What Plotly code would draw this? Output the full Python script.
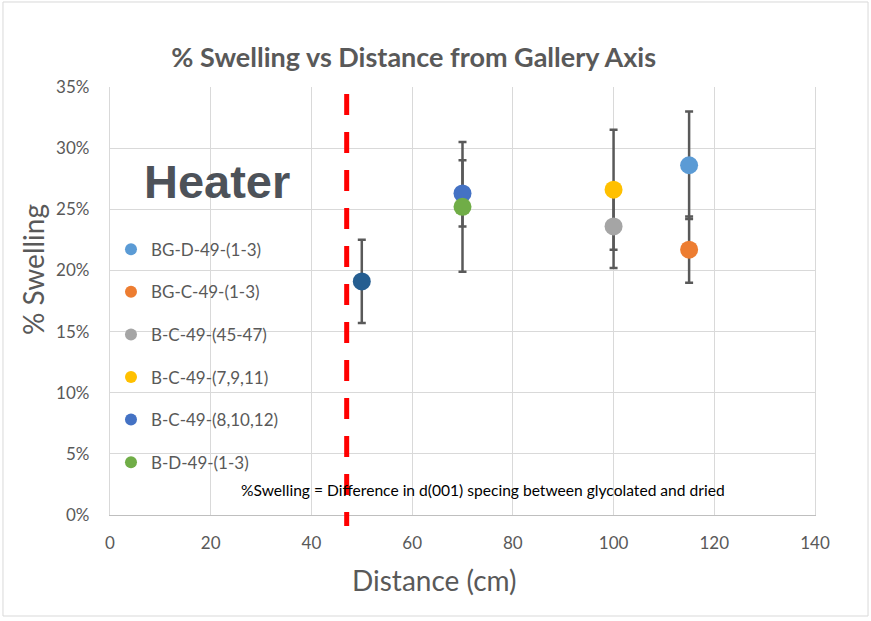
import plotly.graph_objects as go

# ---------------- data ----------------
series_names = ["BG-D-49-(1-3)", "BG-C-49-(1-3)", "B-C-49-(45-47)",
                "B-C-49-(7,9,11)", "B-C-49-(8,10,12)", "B-D-49-(1-3)", "B-C-49-(heater)"]
distance_cm = [115, 115, 100, 100, 70, 70, 50]
swelling = [0.286, 0.217, 0.236, 0.266, 0.263, 0.252, 0.191]
swelling_err = [0.044, 0.027, 0.034, 0.049, 0.027, 0.053, 0.034]
in_legend = [True, True, True, True, True, True, False]
colors = ["#5B9BD5", "#ED7D31", "#A5A5A5", "#FFC000", "#4472C4", "#70AD47", "#255E91"]

heater_line_x = 47
x_ticks = [0, 20, 40, 60, 80, 100, 120, 140]
y_ticks = [0, 0.05, 0.10, 0.15, 0.20, 0.25, 0.30, 0.35]
y_tick_labels = ["0%", "5%", "10%", "15%", "20%", "25%", "30%", "35%"]

FONT = "Lato"
GREY = "#595959"

fig = go.Figure()

# error bars first (beneath every marker)
for name, x, y, e in zip(series_names, distance_cm, swelling, swelling_err):
    fig.add_trace(go.Scatter(
        x=[x], y=[y], mode="markers", showlegend=False, hoverinfo="skip",
        marker=dict(size=1, opacity=0),
        error_y=dict(type="data", array=[e], visible=True, color=GREY,
                     thickness=2.5, width=4),
        legendgroup=name,
    ))

# markers; hidden series first, legend follows the list order
order = [6, 0, 1, 2, 3, 4, 5]
for i in order:
    fig.add_trace(go.Scatter(
        x=[distance_cm[i]], y=[swelling[i]], mode="markers",
        name=series_names[i], showlegend=in_legend[i],
        legendgroup=series_names[i],
        marker=dict(size=18, color=colors[i]),
    ))

shapes = [
    # heater boundary red dashed line
    dict(type="line", xref="x", yref="paper", x0=heater_line_x, x1=heater_line_x,
         y0=0.9836, y1=-0.0257, line=dict(color="#FF0000", width=5, dash="21px,17px")),
    # chart-area border
    dict(type="rect", xref="paper", yref="paper", x0=-0.1518, x1=1.0752,
         y0=-0.236, y1=1.1986, line=dict(color="#D9D9D9", width=1), layer="below"),
]

annotations = [
    dict(text="Heater", xref="x", yref="y", x=21.15, y=0.2731, showarrow=False,
         font=dict(family="Liberation Sans", size=47, color="#4D5259", weight="bold"),
         xanchor="center", yanchor="middle"),
    dict(text="%Swelling = Difference in d(001) specing between glycolated and dried",
         xref="x", yref="y", x=74.1, y=0.0204, showarrow=False,
         font=dict(family=FONT, size=15.6, color="#000000"),
         xanchor="center", yanchor="middle"),
    dict(text="% Swelling", xref="paper", yref="paper", x=-0.1092, y=0.5724,
         textangle=-90, showarrow=False, font=dict(family=FONT, size=28, color=GREY),
         xanchor="center", yanchor="middle"),
    dict(text="Distance (cm)", xref="paper", yref="paper", x=0.4596, y=-0.1519,
         showarrow=False, font=dict(family=FONT, size=28, color=GREY),
         xanchor="center", yanchor="middle"),
]

fig.update_layout(
    width=871, height=621,
    margin=dict(l=110, r=56, t=87, b=106),
    paper_bgcolor="white", plot_bgcolor="white",
    title=dict(text="% Swelling vs Distance from Gallery Axis",
               x=0.475, xanchor="center", y=1 - 58 / 621, yanchor="middle",
               font=dict(family=FONT, size=27, color=GREY, weight="bold")),
    xaxis=dict(range=[0, 140], tickvals=x_ticks, showgrid=True, gridcolor="#D9D9D9",
               gridwidth=1.3, zeroline=False, showline=True, linecolor="#BFBFBF",
               linewidth=1.3, ticks="", ticklabelstandoff=12,
               tickfont=dict(family=FONT, size=17, color=GREY)),
    yaxis=dict(range=[0, 0.35], tickvals=y_ticks, ticktext=y_tick_labels,
               showgrid=True, gridcolor="#D9D9D9", gridwidth=1.3, zeroline=False,
               showline=True, linecolor="#D9D9D9", linewidth=1.3, mirror=True,
               ticks="", ticklabelstandoff=16,
               tickfont=dict(family=FONT, size=17, color=GREY)),
    legend=dict(x=0.0014, y=0.662, xanchor="left", yanchor="top",
                bgcolor="rgba(0,0,0,0)", tracegroupgap=17.5, itemsizing="constant",
                font=dict(family=FONT, size=17, color=GREY)),
    shapes=shapes,
    annotations=annotations,
    showlegend=True,
)

fig.write_html("out.html")
